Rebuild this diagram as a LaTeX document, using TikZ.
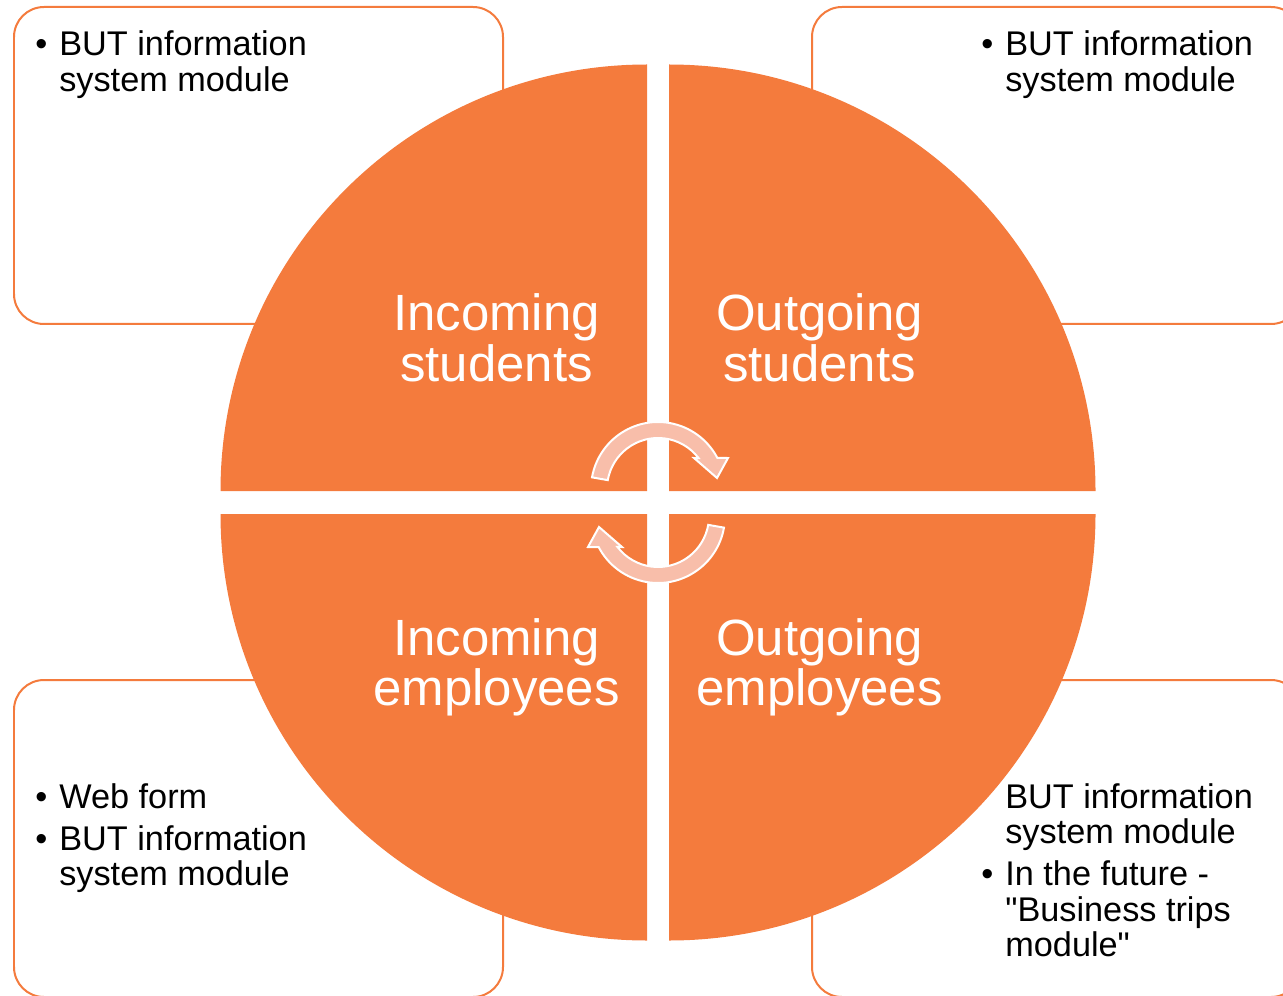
\documentclass[tikz,border=0pt]{standalone}
\usepackage{fontspec}
\setmainfont{Liberation Sans}
\definecolor{orng}{RGB}{244,123,61}
\definecolor{arrowfill}{RGB}{248,190,170}
\newcommand\bul[1]{\par\noindent\hangindent=0.48cm\hangafter=1\makebox[0.48cm][l]{\textbullet}#1}
\newcommand\nobul[1]{\par\noindent\hangindent=0.48cm\hangafter=1\makebox[0.48cm][l]{}#1}
\begin{document}
\begin{tikzpicture}[x=0.02cm,y=0.02cm,
  infobox/.style={draw=orng, line width=0.04cm, fill=white, rounded corners=0.6cm},
  quad/.style={fill=orng},
  cyc/.style={fill=arrowfill, draw=white, line width=0.04cm, line join=miter},
  qlabel/.style={inner sep=0pt, text=white, font=\fontsize{29}{28.5}\selectfont, anchor=base},
  blist/.style={inner sep=0pt, anchor=base west, font=\fontsize{19.5}{20.2}\selectfont}]
\useasboundingbox (0,0) rectangle (1283,995);
\clip (0,0) rectangle (1283,995);
% info boxes
\draw[infobox] (14,988) rectangle (503,671);
\draw[infobox] (812,988) rectangle (1301,671);
\draw[infobox] (14,315) rectangle (503,-2);
\draw[infobox] (812,315) rectangle (1301,-2);
% box texts
\node[blist] (tl) at (35,939) {\parbox[t]{9cm}{\bul{BUT information\\system module}}};
\node[blist] (tr) at (981,939) {\parbox[t]{9cm}{\bul{BUT information\\system module}}};
\node[blist] (bl) at (35,187) {\parbox[t]{9cm}{\bul{Web form}\par\vspace{0.14cm}\bul{BUT information\\system module}}};
\node[blist] (br) at (981,187) {\parbox[t]{9cm}{\nobul{BUT information\\system module}\par\vspace{0.14cm}\bul{In the future -\\\textquotedbl Business trips\\module\textquotedbl}}};
% quadrants
\fill[quad] (647,504) -- ++(-426.5,0) arc[start angle=180,end angle=90,radius=426.5] -- cycle;
\fill[quad] (669,504) -- ++(0,426.5) arc[start angle=90,end angle=0,radius=426.5] -- cycle;
\fill[quad] (647,481) -- ++(0,-426.5) arc[start angle=270,end angle=180,radius=426.5] -- cycle;
\fill[quad] (669,481) -- ++(426.5,0) arc[start angle=0,end angle=-90,radius=426.5] -- cycle;
% labels
\node[qlabel] (is) at (496.5,664) {\parbox[t]{6cm}{\centering Incoming\\students}};
\node[qlabel] (os) at (819.5,664) {\parbox[t]{6cm}{\centering Outgoing\\students}};
\node[qlabel] (ie) at (496.5,340) {\parbox[t]{6cm}{\centering Incoming\\employees}};
\node[qlabel] (oe) at (819.5,340) {\parbox[t]{6cm}{\centering Outgoing\\employees}};
% cycle arrows
\begin{scope}[shift={(658,506)}]
\path[cyc] (170:67) arc[start angle=170,end angle=27.6,radius=67] -- (70,31) -- (59,11) -- (36,31) -- (37.4:51) arc[start angle=37.4,end angle=170,radius=51] -- cycle;
\end{scope}
\begin{scope}[shift={(658,479)},rotate=180]
\path[cyc] (170:67) arc[start angle=170,end angle=27.6,radius=67] -- (70,31) -- (59,11) -- (36,31) -- (37.4:51) arc[start angle=37.4,end angle=170,radius=51] -- cycle;
\end{scope}
\end{tikzpicture}
\end{document}
